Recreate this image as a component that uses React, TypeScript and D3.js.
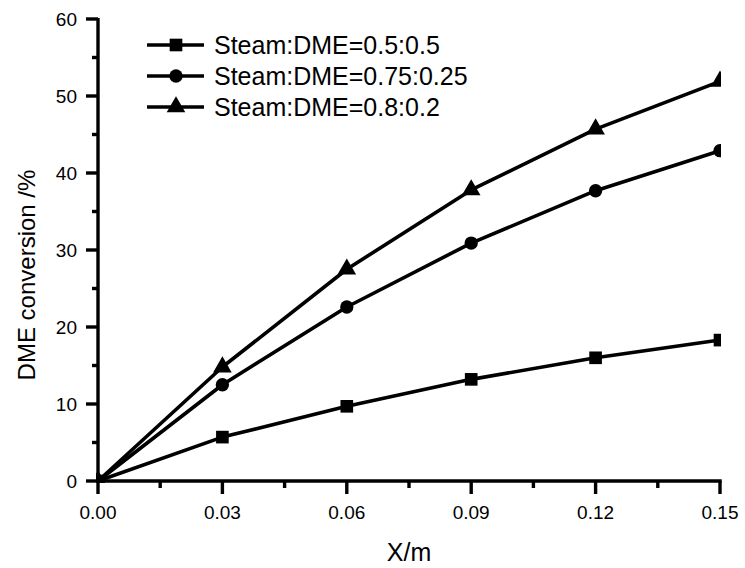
import React from 'react';
import * as d3 from 'd3';

// values
const xValues = [0, 0.03, 0.06, 0.09, 0.12, 0.15];
const seriesNames = ['Steam:DME=0.5:0.5', 'Steam:DME=0.75:0.25', 'Steam:DME=0.8:0.2'];
const seriesSquare = [0, 5.7, 9.7, 13.2, 16.0, 18.3];
const seriesCircle = [0, 12.5, 22.6, 30.9, 37.7, 42.9];
const seriesTriangle = [0, 14.8, 27.5, 37.8, 45.7, 51.9];
const xTicks = [0, 0.03, 0.06, 0.09, 0.12, 0.15];
const yTicks = [0, 10, 20, 30, 40, 50, 60];

const width = 745;
const height = 568;
const left = 98;
const right = 720;
const top = 19;
const bottom = 481;

const font = '"Liberation Sans", Arial, sans-serif';

const x = d3.scaleLinear().domain([0, 0.15]).range([left, right]);
const y = d3.scaleLinear().domain([0, 60]).range([bottom, top]);

const symbols = [d3.symbolSquare, d3.symbolCircle, d3.symbolTriangle];
const symbolSizes = [160, 140, 150];

const series = [seriesSquare, seriesCircle, seriesTriangle];

const App = () => {
  const line = d3.line<number>()
    .x((_, i) => x(xValues[i]))
    .y(d => y(d));

  const minorX = d3.range(0.015, 0.15, 0.03);
  const minorY = d3.range(5, 60, 10);

  return (
    <svg width={width} height={height} style={{ position: 'absolute', left: 0, top: 0, background: '#fff' }}>
      <defs>
        <clipPath id="plot">
          <rect x={left - 2} y={0} width={right - left + 3} height={bottom + 2} />
        </clipPath>
      </defs>

      {/* series */}
      <g clipPath="url(#plot)">
        {series.map((s, k) => (
          <g key={k}>
            <path d={line(s) || ''} fill="none" stroke="#000" strokeWidth={3.6} strokeLinejoin="round" />
            {s.map((v, i) => (
              <path
                key={i}
                transform={`translate(${x(xValues[i])},${y(v)})`}
                d={d3.symbol().type(symbols[k]).size(symbolSizes[k])() || ''}
                fill="#000"
              />
            ))}
          </g>
        ))}
      </g>

      {/* y axis */}
      <line x1={left} x2={left} y1={top - 1} y2={bottom + 1.5} stroke="#000" strokeWidth={3.4} />
      {yTicks.map(t => (
        <g key={t}>
          <line x1={left - 12} x2={left} y1={y(t)} y2={y(t)} stroke="#000" strokeWidth={3.4} />
          <text x={left - 21} y={y(t)} dy="0.35em" textAnchor="end" fontFamily={font} fontSize={19}>{t}</text>
        </g>
      ))}
      {minorY.map(t => (
        <line key={t} x1={left - 6} x2={left} y1={y(t)} y2={y(t)} stroke="#000" strokeWidth={3.4} />
      ))}

      {/* x axis */}
      <line x1={left - 1.7} x2={right + 1.7} y1={bottom} y2={bottom} stroke="#000" strokeWidth={3.4} />
      {xTicks.map(t => (
        <g key={t}>
          <line x1={x(t)} x2={x(t)} y1={bottom} y2={bottom + 13} stroke="#000" strokeWidth={3.4} />
          <text x={x(t)} y={519} textAnchor="middle" fontFamily={font} fontSize={19}>{t.toFixed(2)}</text>
        </g>
      ))}
      {minorX.map(t => (
        <line key={t} x1={x(t)} x2={x(t)} y1={bottom} y2={bottom + 7} stroke="#000" strokeWidth={3.4} />
      ))}

      {/* axis titles */}
      <text x={(left + right) / 2} y={561} textAnchor="middle" fontFamily={font} fontSize={25}>X/m</text>
      <text transform="translate(35,275) rotate(-90)" textAnchor="middle" fontFamily={font} fontSize={24}>DME conversion /%</text>

      {/* legend */}
      {seriesNames.map((name, k) => {
        const ly = 45 + k * 31;
        return (
          <g key={name}>
            <line x1={147} x2={204} y1={ly} y2={ly} stroke="#000" strokeWidth={3.6} />
            <path transform={`translate(176,${ly})`} d={d3.symbol().type(symbols[k]).size(symbolSizes[k])() || ''} fill="#000" />
            <text x={214} y={ly} dy="0.35em" fontFamily={font} fontSize={25}>{name}</text>
          </g>
        );
      })}
    </svg>
  );
};

export default App;
